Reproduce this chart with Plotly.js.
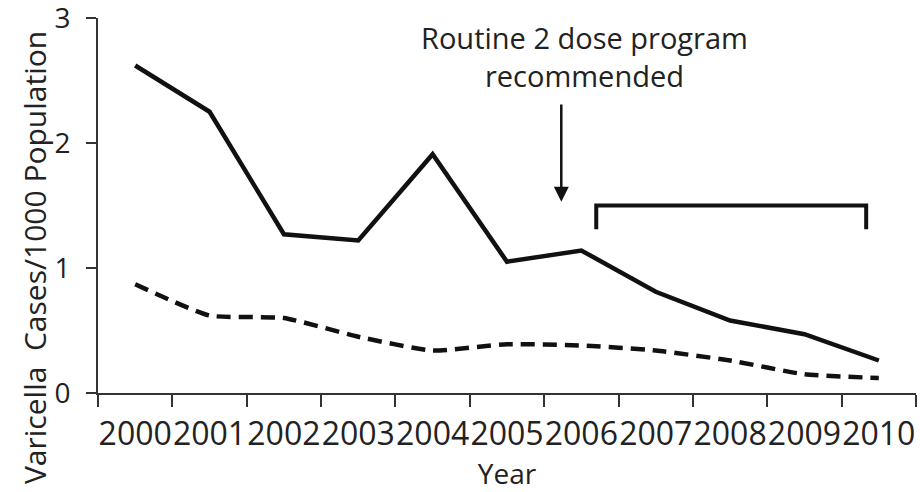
<!DOCTYPE html>
<html>
<head>
<meta charset="utf-8">
<script src="https://cdn.plot.ly/plotly-3.0.1.min.js"></script>
<style>html,body{margin:0;padding:0;background:#fff;}#chart{width:920px;height:492px;}</style>
</head>
<body>
<div id="chart"></div>
<script>
// Data
const years = ['2000','2001','2002','2003','2004','2005','2006','2007','2008','2009','2010'];
const solidSeries = [2.62, 2.25, 1.27, 1.22, 1.91, 1.05, 1.14, 0.81, 0.58, 0.47, 0.26];
const dashedSeries = [0.87, 0.62, 0.60, 0.45, 0.34, 0.39, 0.38, 0.34, 0.26, 0.15, 0.12];
const yTickValues = [0, 1, 2, 3];
const annotationText = 'Routine 2 dose program<br>recommended';
const yTitle = 'Varicella  Cases/1000 Population';
const xTitle = 'Year';

// Annotation geometry (data coordinates)
const arrowX = 5.73, arrowTipY = 1.53, arrowTailY = 2.32;
const bracketX0 = 6.2, bracketX1 = 9.83, bracketTop = 1.5, bracketBottom = 1.31;

const font = 'Open Sans, DejaVu Sans, sans-serif';
const narrow = 'Liberation Sans Narrow, Arial Narrow, Open Sans, sans-serif';
const ink = '#111';

const traces = [
  {x: years, y: solidSeries, type: 'scatter', mode: 'lines',
   line: {color: ink, width: 4.5}, hoverinfo: 'skip'},
  {x: years, y: dashedSeries, type: 'scatter', mode: 'lines',
   line: {color: ink, width: 4.5, dash: '14px,8px', shape: 'spline', smoothing: 0.5}, hoverinfo: 'skip'}
];

const layout = {
  width: 920, height: 492,
  margin: {l: 98, r: 4, t: 18, b: 99},
  paper_bgcolor: '#fff', plot_bgcolor: '#fff',
  showlegend: false,
  font: {family: font, color: '#222', size: 30},
  xaxis: {
    type: 'category', range: [-0.5, 10.5],
    tickson: 'boundaries', ticks: 'outside', ticklen: 12, tickwidth: 2, tickcolor: '#333',
    showline: true, linecolor: '#333', linewidth: 2,
    showgrid: false, zeroline: false, tickangle: 0, automargin: false,
    tickfont: {family: narrow, size: 32, color: '#222'},
    ticklabelstandoff: 12,
    title: {text: xTitle, font: {family: font, size: 28, color: '#222'}, standoff: 13}
  },
  yaxis: {
    range: [0, 3], tickvals: yTickValues, ticktext: yTickValues.map(String),
    ticks: 'outside', ticklen: 10, tickwidth: 2, tickcolor: '#333',
    showline: true, linecolor: '#333', linewidth: 2,
    showgrid: false, zeroline: false, automargin: false, ticklabeloverflow: 'allow',
    tickfont: {family: font, size: 28, color: '#222'},
    ticklabelstandoff: 10
  },
  annotations: [
    {xref: 'paper', yref: 'paper', x: -0.0782, y: 0.36, text: yTitle, textangle: -90,
     showarrow: false, font: {family: font, size: 30, color: '#222'}, xanchor: 'center', yanchor: 'middle'},
    {xref: 'x', yref: 'y', x: 6.04, y: 2.69, text: annotationText, showarrow: false,
     font: {family: font, size: 29, color: '#222'}, xanchor: 'center', yanchor: 'middle'},
    {xref: 'x', yref: 'y', x: arrowX, y: arrowTipY, axref: 'x', ayref: 'y', ax: arrowX, ay: arrowTailY,
     text: '', showarrow: true, arrowhead: 2, arrowsize: 1.2, arrowwidth: 2.5, arrowcolor: ink}
  ],
  shapes: [
    {type: 'path', xref: 'x', yref: 'y',
     path: 'M ' + bracketX0 + ',' + bracketBottom + ' L ' + bracketX0 + ',' + bracketTop +
           ' L ' + bracketX1 + ',' + bracketTop + ' L ' + bracketX1 + ',' + bracketBottom,
     line: {color: ink, width: 4}}
  ]
};

Plotly.newPlot('chart', traces, layout, {staticPlot: true, displayModeBar: false});
</script>
</body>
</html>
